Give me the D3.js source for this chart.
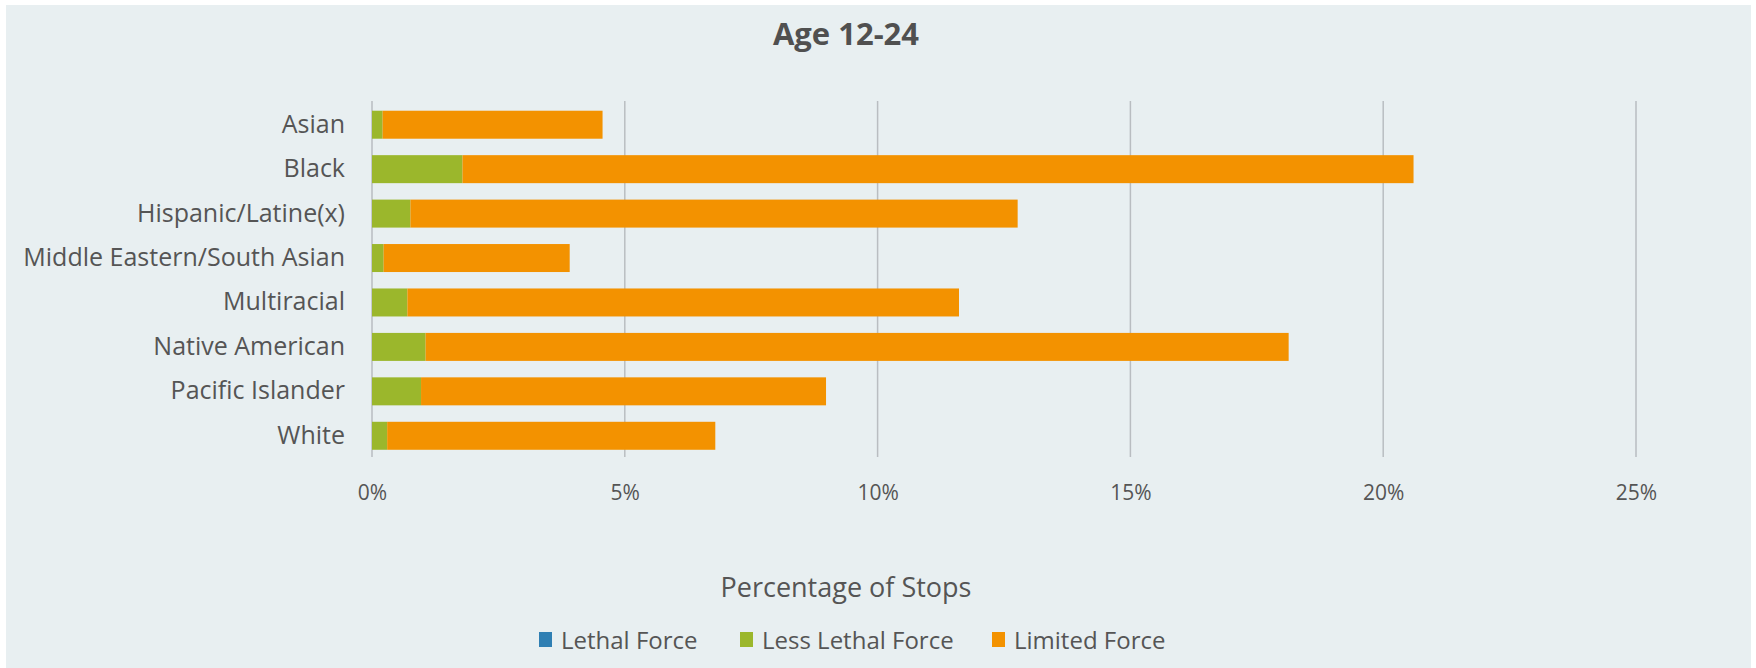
<!DOCTYPE html>
<html>
<head>
<meta charset="utf-8">
<script src="https://cdn.jsdelivr.net/npm/d3@7/dist/d3.min.js"></script>
<style>
  html, body { margin: 0; padding: 0; background: #ffffff; }
  svg { display: block; }
  text { font-family: "Open Sans", "DejaVu Sans", sans-serif; }
</style>
</head>
<body>
<svg id="chart" width="1756" height="668"></svg>
<script>
// Share of stops by force type, ages 12-24 (percent of stops)
const categories = [
  "Asian",
  "Black",
  "Hispanic/Latine(x)",
  "Middle Eastern/South Asian",
  "Multiracial",
  "Native American",
  "Pacific Islander",
  "White"
];
const seriesNames = ["Lethal Force", "Less Lethal Force", "Limited Force"];
const lethalForce     = [0, 0, 0, 0, 0, 0, 0, 0];
const lessLethalForce = [0.21, 1.79, 0.76, 0.23, 0.70, 1.06, 0.97, 0.30];
const limitedForce    = [4.35, 18.81, 12.01, 3.68, 10.91, 17.07, 8.01, 6.49];
const tickValues = [0, 5, 10, 15, 20, 25];
const tickLabels = ["0%", "5%", "10%", "15%", "20%", "25%"];
const chartTitle = "Age 12-24";
const axisTitle = "Percentage of Stops";

const colors = ["#2f7fb3", "#9bb72c", "#f39200"];
const textColor = "#555555";

const rows = categories.map((c, i) => ({
  category: c,
  "Lethal Force": lethalForce[i],
  "Less Lethal Force": lessLethalForce[i],
  "Limited Force": limitedForce[i]
}));

const svg = d3.select("#chart");
const W = 1756, H = 668;

// panel background
svg.append("rect")
  .attr("x", 6).attr("y", 5)
  .attr("width", W - 11).attr("height", H - 5)
  .attr("fill", "#e8eff1");

const plot = { left: 372, right: 1636, top: 102.5, bottom: 458 };

const x = d3.scaleLinear().domain([0, 25]).range([plot.left, plot.right]);
const y = d3.scaleBand().domain(categories)
  .range([plot.top, plot.bottom])
  .paddingInner(0.37).paddingOuter(0.185);

// vertical gridlines
svg.append("g").selectAll("line")
  .data(tickValues)
  .join("line")
  .attr("x1", d => x(d)).attr("x2", d => x(d))
  .attr("y1", 101).attr("y2", 457)
  .attr("stroke", "#b9bdc1")
  .attr("stroke-width", 1.5);

// stacked bars
const stack = d3.stack().keys(seriesNames);
const layers = stack(rows);

svg.append("g").selectAll("g")
  .data(layers)
  .join("g")
  .attr("fill", (d, i) => colors[i])
  .selectAll("rect")
  .data(d => d)
  .join("rect")
  .attr("x", d => x(d[0]))
  .attr("y", d => y(d.data.category))
  .attr("width", d => Math.max(0, x(d[1]) - x(d[0])))
  .attr("height", y.bandwidth());

// category axis labels
const yAxis = d3.axisLeft(y).tickSize(0).tickPadding(0);
const yg = svg.append("g")
  .attr("transform", `translate(${plot.left - 27},0)`)
  .call(yAxis);
yg.select(".domain").remove();
yg.selectAll("text")
  .attr("font-size", 25)
  .attr("fill", textColor)
  .attr("font-family", "'Open Sans', sans-serif");

// value axis labels
const xAxis = d3.axisBottom(x)
  .tickValues(tickValues)
  .tickFormat((d, i) => tickLabels[i])
  .tickSize(0).tickPadding(0);
const xg = svg.append("g")
  .attr("transform", `translate(0,485)`)
  .call(xAxis);
xg.select(".domain").remove();
xg.selectAll("text")
  .attr("font-size", 21)
  .attr("fill", textColor)
  .attr("font-family", "'Open Sans', sans-serif");

// chart title
svg.append("text")
  .attr("x", 846).attr("y", 45)
  .attr("text-anchor", "middle")
  .attr("font-size", 31)
  .attr("font-weight", "bold")
  .attr("fill", "#505050")
  .text(chartTitle);

// axis title
svg.append("text")
  .attr("x", 846).attr("y", 597)
  .attr("text-anchor", "middle")
  .attr("font-size", 27)
  .attr("fill", textColor)
  .text(axisTitle);

// legend
const legendX = [539, 740, 992];
const legend = svg.append("g").selectAll("g")
  .data(seriesNames)
  .join("g")
  .attr("transform", (d, i) => `translate(${legendX[i]},640)`);
legend.append("rect")
  .attr("x", 0).attr("y", -8)
  .attr("width", 13).attr("height", 15)
  .attr("fill", (d, i) => colors[i]);
legend.append("text")
  .attr("x", 22).attr("y", 8.5)
  .attr("font-size", 24)
  .attr("fill", textColor)
  .text(d => d);
</script>
</body>
</html>
